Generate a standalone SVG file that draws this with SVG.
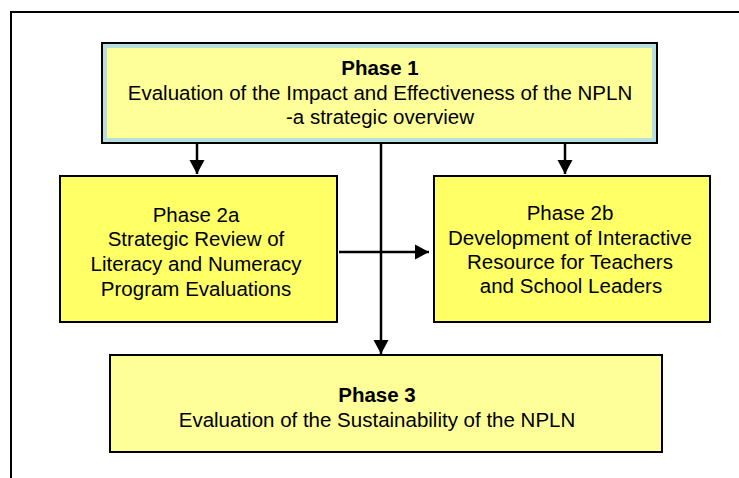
<svg xmlns="http://www.w3.org/2000/svg" width="739" height="478" viewBox="0 0 739 478">
<style>
text{font-family:"Liberation Sans",Arial,sans-serif;font-size:20.5px;fill:#000;text-anchor:middle}
.b{font-weight:bold}
.box{stroke:#000;stroke-width:2}
.ln{stroke:#000;stroke-width:2.5;fill:none}
</style>
<defs>
<marker id="ah" markerUnits="userSpaceOnUse" markerWidth="16" markerHeight="16" viewBox="0 0 16 16" refX="14" refY="8" orient="auto">
<path d="M0,0.5 L14,8 L0,15.5 Z" fill="#000"/>
</marker>
</defs>
<rect width="739" height="478" fill="#fff"/>
<path d="M11,480 V12 H741" fill="none" stroke="#000" stroke-width="2"/>
<g id="connectors">
<path class="ln" d="M197,143 V174" marker-end="url(#ah)"/>
<path class="ln" d="M565,143 V174" marker-end="url(#ah)"/>
<path class="ln" d="M381,143 V354" marker-end="url(#ah)"/>
<path class="ln" d="M339,252 H429" marker-end="url(#ah)"/>
</g>
<g id="phase1">
<rect class="box" x="102" y="43" width="555" height="100" fill="#FFFF99"/>
<rect x="105" y="46" width="549" height="94" fill="none" stroke="#B8DEDE" stroke-width="4"/>
<text class="b" x="380" y="75">Phase 1</text>
<text x="380" y="100">Evaluation of the Impact and Effectiveness of the NPLN</text>
<text x="380" y="124">-a strategic overview</text>
</g>
<g id="phase2a">
<rect class="box" x="60" y="176" width="277" height="146" fill="#FFFF66"/>
<text x="196" y="222">Phase 2a</text>
<text x="196" y="246">Strategic Review of</text>
<text x="196" y="271">Literacy and Numeracy</text>
<text x="196" y="296">Program Evaluations</text>
</g>
<g id="phase2b">
<rect class="box" x="434" y="176" width="276" height="146" fill="#FFFF66"/>
<text x="570" y="220">Phase 2b</text>
<text x="570" y="245">Development of Interactive</text>
<text x="570" y="269">Resource for Teachers</text>
<text x="571" y="293">and School Leaders</text>
</g>
<g id="phase3">
<rect class="box" x="110" y="355" width="552" height="97" fill="#FFFF99"/>
<text class="b" x="377" y="402">Phase 3</text>
<text x="377" y="427">Evaluation of the Sustainability of the NPLN</text>
</g>
</svg>
